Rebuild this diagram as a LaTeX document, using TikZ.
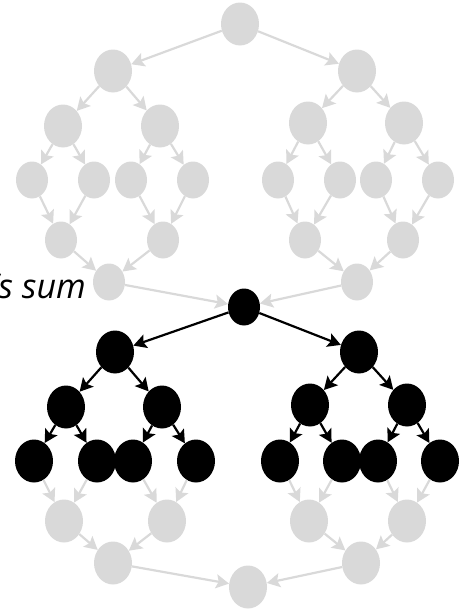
\documentclass[tikz,border=0pt]{standalone}
\usepackage{fontspec}
\setmainfont{Open Sans}
\usetikzlibrary{shapes.geometric,arrows.meta}
\definecolor{lg}{HTML}{D9D9D9}
\tikzset{
  gbig/.style={ellipse,fill=lg,draw=none,minimum width=38pt,minimum height=43pt,inner sep=0pt},
  gsm/.style={ellipse,fill=lg,draw=none,minimum width=32pt,minimum height=37pt,inner sep=0pt},
  bbig/.style={ellipse,fill=black,draw=none,minimum width=38pt,minimum height=43pt,inner sep=0pt},
  bsm/.style={ellipse,fill=black,draw=none,minimum width=32pt,minimum height=37pt,inner sep=0pt},
  gedge/.style={draw=lg,line width=2.2pt,-{Stealth[length=13pt,width=14pt,inset=2.5pt]}},
  bedge/.style={draw=black,line width=2.2pt,-{Stealth[length=13pt,width=14pt,inset=2.5pt]}}
}
\begin{document}
\begin{tikzpicture}[x=1pt,y=-1pt]
\useasboundingbox (0,0) rectangle (466,611);
\clip (0,0) rectangle (466,611);
% text
\node[anchor=base east,inner sep=0pt,font=\fontsize{34}{40}\selectfont\itshape] (txt) at (86,298) {’s sum};
% top gray tree
\node[gbig] (t0) at (240,24) {};
\node[gbig] (t1a) at (113,71) {};
\node[gbig] (t1b) at (357,71) {};
\node[gbig] (t2a) at (63,126) {};
\node[gbig] (t2b) at (160,126) {};
\node[gbig] (t2c) at (308,123) {};
\node[gbig] (t2d) at (404,123) {};
\node[gsm] (t3a) at (32,180) {};
\node[gsm] (t3b) at (94,180) {};
\node[gsm] (t3c) at (131,180) {};
\node[gsm] (t3d) at (193,180) {};
\node[gsm] (t3e) at (278,180) {};
\node[gsm] (t3f) at (340,180) {};
\node[gsm] (t3g) at (376,180) {};
\node[gsm] (t3h) at (438,180) {};
\node[gsm] (t4a) at (61,240) {};
\node[gsm] (t4b) at (163,240) {};
\node[gsm] (t4c) at (305,240) {};
\node[gsm] (t4d) at (403,240) {};
\node[gsm] (t5a) at (109,282) {};
\node[gsm] (t5b) at (357,282) {};
% black tree
\node[bsm] (b0) at (244,307) {};
\node[bbig] (b1a) at (115,352) {};
\node[bbig] (b1b) at (359,352) {};
\node[bbig] (b2a) at (66,407) {};
\node[bbig] (b2b) at (162,407) {};
\node[bbig] (b2c) at (310,405) {};
\node[bbig] (b2d) at (407,405) {};
\node[bbig] (b3a) at (34,461) {};
\node[bbig] (b3b) at (97,461) {};
\node[bbig] (b3c) at (133,461) {};
\node[bbig] (b3d) at (196,461) {};
\node[bbig] (b3e) at (280,461) {};
\node[bbig] (b3f) at (342,461) {};
\node[bbig] (b3g) at (378,461) {};
\node[bbig] (b3h) at (440,461) {};
% bottom gray
\node[gbig] (u4a) at (64,521) {};
\node[gbig] (u4b) at (167,521) {};
\node[gbig] (u4c) at (309,521) {};
\node[gbig] (u4d) at (407,521) {};
\node[gbig] (u5a) at (113,563) {};
\node[gbig] (u5b) at (361,563) {};
\node[gbig] (u0) at (248,587) {};
% top gray edges
\draw[gedge] (t0) -- (t1a);
\draw[gedge] (t0) -- (t1b);
\draw[gedge] (t1a) -- (t2a);
\draw[gedge] (t1a) -- (t2b);
\draw[gedge] (t1b) -- (t2c);
\draw[gedge] (t1b) -- (t2d);
\draw[gedge] (t2a) -- (t3a);
\draw[gedge] (t2a) -- (t3b);
\draw[gedge] (t2b) -- (t3c);
\draw[gedge] (t2b) -- (t3d);
\draw[gedge] (t2c) -- (t3e);
\draw[gedge] (t2c) -- (t3f);
\draw[gedge] (t2d) -- (t3g);
\draw[gedge] (t2d) -- (t3h);
\draw[gedge] (t3a) -- (t4a);
\draw[gedge] (t3b) -- (t4a);
\draw[gedge] (t3c) -- (t4b);
\draw[gedge] (t3d) -- (t4b);
\draw[gedge] (t3e) -- (t4c);
\draw[gedge] (t3f) -- (t4c);
\draw[gedge] (t3g) -- (t4d);
\draw[gedge] (t3h) -- (t4d);
\draw[gedge] (t4a) -- (t5a);
\draw[gedge] (t4b) -- (t5a);
\draw[gedge] (t4c) -- (t5b);
\draw[gedge] (t4d) -- (t5b);
\draw[gedge] (t5a) -- (b0);
\draw[gedge] (t5b) -- (b0);
% black edges
\draw[bedge] (b0) -- (b1a);
\draw[bedge] (b0) -- (b1b);
\draw[bedge] (b1a) -- (b2a);
\draw[bedge] (b1a) -- (b2b);
\draw[bedge] (b1b) -- (b2c);
\draw[bedge] (b1b) -- (b2d);
\draw[bedge] (b2a) -- (b3a);
\draw[bedge] (b2a) -- (b3b);
\draw[bedge] (b2b) -- (b3c);
\draw[bedge] (b2b) -- (b3d);
\draw[bedge] (b2c) -- (b3e);
\draw[bedge] (b2c) -- (b3f);
\draw[bedge] (b2d) -- (b3g);
\draw[bedge] (b2d) -- (b3h);
% bottom gray edges
\draw[gedge] (b3a) -- (u4a);
\draw[gedge] (b3b) -- (u4a);
\draw[gedge] (b3c) -- (u4b);
\draw[gedge] (b3d) -- (u4b);
\draw[gedge] (b3e) -- (u4c);
\draw[gedge] (b3f) -- (u4c);
\draw[gedge] (b3g) -- (u4d);
\draw[gedge] (b3h) -- (u4d);
\draw[gedge] (u4a) -- (u5a);
\draw[gedge] (u4b) -- (u5a);
\draw[gedge] (u4c) -- (u5b);
\draw[gedge] (u4d) -- (u5b);
\draw[gedge] (u5a) -- (u0);
\draw[gedge] (u5b) -- (u0);
\end{tikzpicture}
\end{document}
